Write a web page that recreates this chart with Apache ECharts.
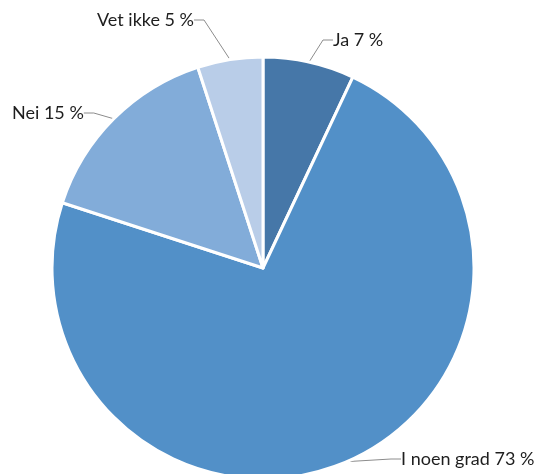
<!DOCTYPE html>
<html><head><meta charset="utf-8">
<script src="https://cdn.jsdelivr.net/npm/echarts@6/dist/echarts.min.js"></script>
<style>html,body{margin:0;padding:0;background:#fff}#c{width:540px;height:474px}</style>
</head><body><div id="c"></div>
<script>
const categories = ['Ja', 'I noen grad', 'Nei', 'Vet ikke'];
const values = [7, 73, 15, 5];
const colors = ['#4677a8', '#5290c8', '#82acd9', '#b9cde8'];
// label anchor points (left edge, vertical middle)
const labelPos = [[333, 40], [401, 459], [12, 113], [97, 20]];

const chart = echarts.init(document.getElementById('c'), null, {renderer: 'canvas'});
chart.setOption({
  animation: false,
  series: [{
    type: 'pie',
    center: [263, 268],
    radius: [0, 211],
    startAngle: 90,
    clockwise: true,
    data: categories.map((c, i) => ({name: c, value: values[i], itemStyle: {color: colors[i]}})),
    itemStyle: {borderColor: '#fff', borderWidth: 3},
    label: {
      show: true,
      formatter: p => p.name + ' ' + p.value + ' %',
      fontFamily: 'Lato',
      fontSize: 18,
      color: '#1e1e1e'
    },
    labelLine: {show: true, lineStyle: {color: '#8c8c8c', width: 1}, length: 10, length2: 10},
    labelLayout: p => ({
      x: labelPos[p.dataIndex][0],
      y: labelPos[p.dataIndex][1],
      align: 'left',
      verticalAlign: 'middle'
    })
  }]
});
</script></body></html>
